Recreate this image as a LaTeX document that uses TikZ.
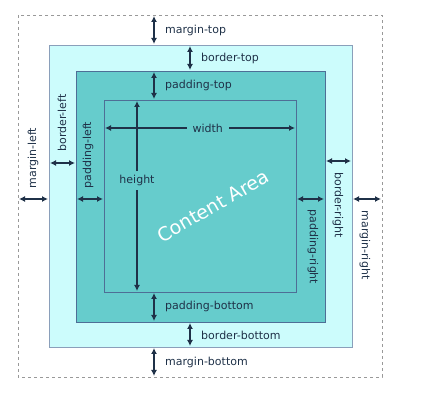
\documentclass[tikz,border=0pt]{standalone}
\usepackage{fontspec}
\setmainfont{DejaVu Sans}
\usetikzlibrary{arrows.meta}

\definecolor{bordercyan}{HTML}{CCFCFC}
\definecolor{padteal}{HTML}{66CCCC}
\definecolor{edgeblue}{HTML}{4E6E96}
\definecolor{edgegray}{HTML}{8A9FBA}
\definecolor{dimnavy}{HTML}{1F3148}

\tikzset{
  dim/.style={{Latex[length=6pt,width=6pt]}-{Latex[length=6pt,width=6pt]}, line width=1.8pt, dimnavy, shorten >=1pt, shorten <=1pt},
  lbl/.style={text=dimnavy, inner sep=1pt},
}

\begin{document}
\begin{tikzpicture}[x=1pt, y=-1pt, every node/.style={font=\fontsize{11}{13}\selectfont}]
  \useasboundingbox (0,0) rectangle (424,406);

  % box corners
  \coordinate (m1) at (18,15);   \coordinate (m2) at (382,377);
  \coordinate (b1) at (49,45);   \coordinate (b2) at (352,347);
  \coordinate (p1) at (76,71);   \coordinate (p2) at (325,322);
  \coordinate (c1) at (104,100); \coordinate (c2) at (296,292);

  % boxes
  \draw[gray!80, dashed, line width=0.6pt] (m1) rectangle (m2);
  \filldraw[fill=bordercyan, draw=edgegray, line width=0.8pt] (b1) rectangle (b2);
  \filldraw[fill=padteal, draw=edgeblue, line width=0.8pt] (p1) rectangle (p2);
  \filldraw[fill=padteal, draw=edgeblue, line width=0.8pt] (c1) rectangle (c2);

  % top and bottom
  \draw[dim] (154,0 |- m1) -- (154,0 |- b1);
  \node[lbl, anchor=west] (mtop) at (164,30) {margin-top};
  \draw[dim] (190,0 |- b1) -- (190,0 |- p1);
  \node[lbl, anchor=west] (btop) at (200,58) {border-top};
  \draw[dim] (154,0 |- p1) -- (154,0 |- c1);
  \node[lbl, anchor=west] (ptop) at (164,85) {padding-top};

  \draw[dim] (154,0 |- c2) -- (154,0 |- p2);
  \node[lbl, anchor=west] (pbot) at (164,306) {padding-bottom};
  \draw[dim] (190,0 |- p2) -- (190,0 |- b2);
  \node[lbl, anchor=west] (bbot) at (200,335) {border-bottom};
  \draw[dim] (154,0 |- b2) -- (154,0 |- m2);
  \node[lbl, anchor=west] (mbot) at (164,362) {margin-bottom};

  % left side
  \draw[dim] (m1 |- 0,199) -- (b1 |- 0,199);
  \node[lbl, rotate=90] (mleft) at (33,158) {margin-left};
  \draw[dim] (b1 |- 0,163) -- (p1 |- 0,163);
  \node[lbl, rotate=90] (bleft) at (62,123) {border-left};
  \draw[dim] (p1 |- 0,199) -- (c1 |- 0,199);
  \node[lbl, rotate=90] (pleft) at (88,155) {padding-left};

  % right side
  \draw[dim] (c2 |- 0,199) -- (p2 |- 0,199);
  \node[lbl, rotate=-90] (pright) at (313,247) {padding-right};
  \draw[dim] (p2 |- 0,161) -- (b2 |- 0,161);
  \node[lbl, rotate=-90] (bright) at (338,205) {border-right};
  \draw[dim] (b2 |- 0,199) -- (m2 |- 0,199);
  \node[lbl, rotate=-90] (mright) at (365,245) {margin-right};

  % content dimensions
  \draw[dim] (c1 |- 0,128) -- (c2 |- 0,128)
    node[lbl, pos=0.54, fill=padteal, inner xsep=6pt] (wlbl) {width};
  \draw[dim] (137,0 |- c1) -- (137,0 |- c2)
    node[lbl, pos=0.42, fill=padteal, inner ysep=4pt] (hlbl) {height};

  \node[text=white, rotate=30, inner sep=0pt, font=\fontsize{19}{22}\selectfont] (area) at (213,206) {Content Area};
\end{tikzpicture}
\end{document}
